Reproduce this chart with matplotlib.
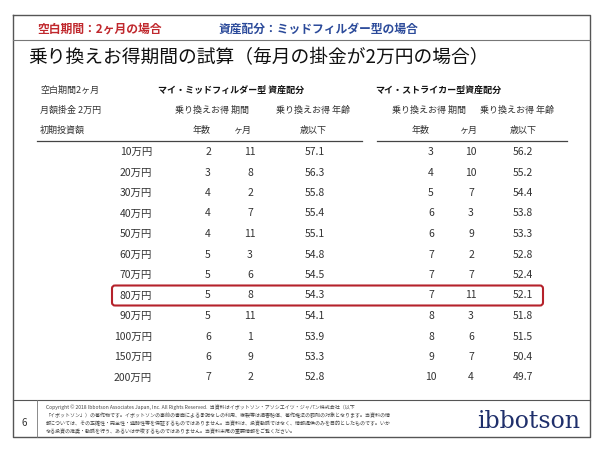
import matplotlib
matplotlib.use('Agg')
import matplotlib.pyplot as plt
from matplotlib.patches import FancyBboxPatch

plt.rcParams['font.family'] = 'Noto Sans CJK JP'

amounts = ['10万円', '20万円', '30万円', '40万円', '50万円', '60万円', '70万円',
           '80万円', '90万円', '100万円', '150万円', '200万円']
mid_years = [2, 3, 4, 4, 4, 5, 5, 5, 5, 6, 6, 7]
mid_months = [11, 8, 2, 7, 11, 3, 6, 8, 11, 1, 9, 2]
mid_age = [57.1, 56.3, 55.8, 55.4, 55.1, 54.8, 54.5, 54.3, 54.1, 53.9, 53.3, 52.8]
str_years = [3, 4, 5, 6, 6, 7, 7, 7, 8, 8, 9, 10]
str_months = [10, 10, 7, 3, 9, 2, 7, 11, 3, 6, 7, 4]
str_age = [56.2, 55.2, 54.4, 53.8, 53.3, 52.8, 52.4, 52.1, 51.8, 51.5, 50.4, 49.7]
highlight = 7  # 80万円

fig = plt.figure(figsize=(6, 4.51), dpi=100)
ax = fig.add_axes([0, 0, 1, 1])
ax.set_xlim(0, 600)
ax.set_ylim(451, 0)
ax.axis('off')

ink = '#333333'
# frame
ax.plot([13, 590, 590, 13, 13], [15, 15, 437, 437, 15], color='#555555', lw=1)
ax.plot([13, 590], [40, 40], color='#777777', lw=0.8)
ax.plot([13, 590], [400, 400], color='#555555', lw=0.8)
ax.plot([37, 37], [400, 437], color='#777777', lw=0.6)

ax.text(37, 29, '空白期間：2ヶ月の場合', color='#c0282d', fontsize=8.5, fontweight='bold', va='center')
ax.text(219, 29, '資産配分：ミッドフィルダー型の場合', color='#2b4a9a', fontsize=8.5, fontweight='bold', va='center')
ax.text(28, 58, '乗り換えお得期間の試算（毎月の掛金が2万円の場合）', color='#111111', fontsize=13.5, va='center')

fs = 6.5
ax.text(40, 90, '空白期間2ヶ月', fontsize=fs, color=ink, va='center')
ax.text(40, 110, '月額掛金 2万円', fontsize=fs, color=ink, va='center')
ax.text(40, 130, '初期投資額', fontsize=fs, color=ink, va='center')
ax.text(158, 90, 'マイ・ミッドフィルダー型 資産配分', fontsize=fs, color='#111111', fontweight='bold', va='center')
ax.text(375, 90, 'マイ・ストライカー型資産配分', fontsize=fs, color='#111111', fontweight='bold', va='center')
for x, t in [(212, '乗り換えお得 期間'), (313, '乗り換えお得 年齢'),
             (429, '乗り換えお得 期間'), (517, '乗り換えお得 年齢')]:
    ax.text(x, 110, t, fontsize=fs, color=ink, va='center', ha='center')
for x, t in [(202, '年数'), (243, 'ヶ月'), (313, '歳以下'),
             (421, '年数'), (469, 'ヶ月'), (523, '歳以下')]:
    ax.text(x, 130, t, fontsize=fs, color=ink, va='center', ha='center')
ax.plot([37, 362], [141, 141], color='#444444', lw=0.9)
ax.plot([377, 567], [141, 141], color='#444444', lw=0.9)

nfs = 7.5
for i, a in enumerate(amounts):
    y = 152 + i * 20.5
    ax.text(152, y, a, fontsize=nfs, color=ink, va='center', ha='right')
    ax.text(208, y, str(mid_years[i]), fontsize=nfs, color=ink, va='center', ha='center')
    ax.text(250, y, str(mid_months[i]), fontsize=nfs, color=ink, va='center', ha='center')
    ax.text(315, y, f'{mid_age[i]:.1f}', fontsize=nfs, color=ink, va='center', ha='center')
    ax.text(431, y, str(str_years[i]), fontsize=nfs, color=ink, va='center', ha='center')
    ax.text(471, y, str(str_months[i]), fontsize=nfs, color=ink, va='center', ha='center')
    ax.text(523, y, f'{str_age[i]:.1f}', fontsize=nfs, color=ink, va='center', ha='center')

yh = 152 + highlight * 20.5
ax.add_patch(FancyBboxPatch((112, yh - 10), 431, 20, boxstyle='round,pad=0,rounding_size=3',
                            fill=False, edgecolor='#b5222b', lw=1.5))

ax.text(22, 423, '6', fontsize=7, color=ink, va='center')
foot = ['Copyright © 2018 Ibbotson Associates Japan, Inc. All Rights Reserved.  当資料はイボットソン・アソシエイツ・ジャパン株式会社（以下',
        '「イボットソン」）の著作物です。イボットソンの事前の書面による承諾なしの利用、複製等は損害賠償、著作権法の罰則の対象となります。当資料の情',
        '報については、その正確性・完全性・適時性等を保証するものではありません。当資料は、投資勧誘ではなく、情報提供のみを目的としたものです。いか',
        'なる投資の推奨・勧誘を行う、あるいは示唆するものではありません。当資料末尾の重要情報をご覧ください。']
for k, line in enumerate(foot):
    ax.text(46, 407 + k * 8, line, fontsize=3.6, color='#444444', va='center')
ax.text(529, 421, 'ibbotson', fontsize=17, color='#1f2f6b', family='DejaVu Serif', va='center', ha='center')

fig.savefig('out.png', dpi=100, facecolor='white')
